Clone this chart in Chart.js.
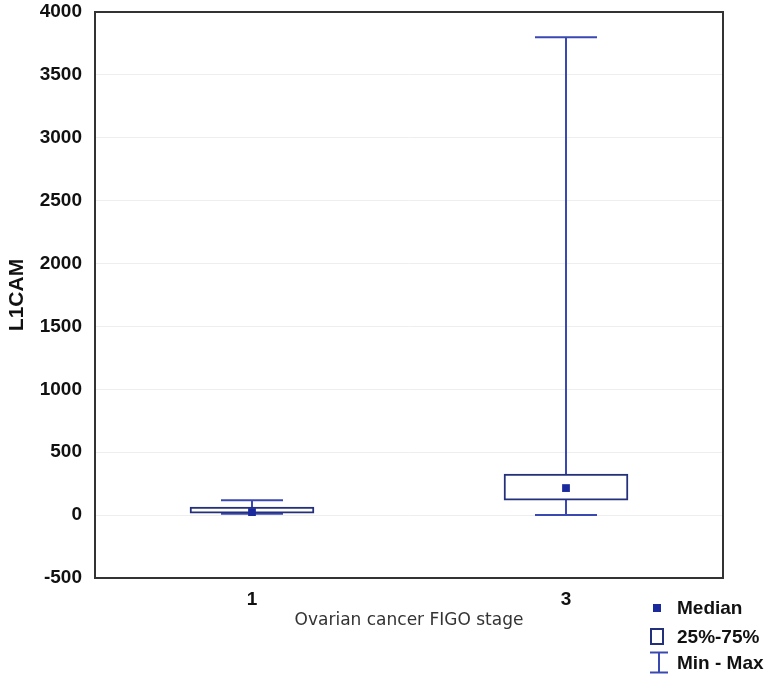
<!DOCTYPE html>
<html>
<head>
<meta charset="utf-8">
<script src="https://cdn.jsdelivr.net/npm/chart.js@4.4.1/dist/chart.umd.min.js"></script>
<style>
    body { margin: 0; background: #fff; }
    #wrap { position: relative; width: 778px; height: 680px; }
    .lg-text { position: absolute; left: 677px; height: 22px; line-height: 22px;
        font: bold 19px "Liberation Sans", Arial, sans-serif; color: #111; white-space: nowrap; }
    .lg-median { position: absolute; left: 653px; top: 604px; width: 8px; height: 8px; background: #1a2a9c; }
    .lg-box { position: absolute; left: 650px; top: 628px; width: 14px; height: 17px;
        border: 2px solid #25307a; box-sizing: border-box; background: #fff; }
    .lg-whisker { position: absolute; left: 649px; top: 651px; }
</style>
</head>
<body>
<div id="wrap">
    <canvas id="boxChart"></canvas>
    <div class="lg-median"></div>
    <div class="lg-text" style="top: 597px;">Median</div>
    <div class="lg-box"></div>
    <div class="lg-text" style="top: 626px;">25%-75%</div>
    <svg class="lg-whisker" width="20" height="23">
        <line x1="1" y1="1.5" x2="19" y2="1.5" stroke="#3a48b2" stroke-width="2"/>
        <line x1="10" y1="1.5" x2="10" y2="21.5" stroke="#3a48b2" stroke-width="2"/>
        <line x1="1" y1="21.5" x2="19" y2="21.5" stroke="#3a48b2" stroke-width="2"/>
    </svg>
    <div class="lg-text" style="top: 652px;">Min - Max</div>
</div>
<script>
// FIGO stages and L1CAM summary values
const stages = [1, 3];
const minVals = [10, 0];
const q1Vals = [16, 119];
const medianVals = [24, 215];
const q3Vals = [64, 326];
const maxVals = [119, 3800];

const yMin = -500;
const yMax = 4000;
const yStep = 500;

const boxColor = '#25307a';
const whiskerColor = '#3a48b2';
const medianColor = '#1a2a9c';
const frameColor = '#333333';

// Frame round the plot area plus whiskers with caps (drawn under the boxes)
const boxPlotExtras = {
    id: 'boxPlotExtras',
    beforeDatasetsDraw(chart) {
        const { ctx, chartArea, scales } = chart;
        ctx.save();
        ctx.strokeStyle = frameColor;
        ctx.lineWidth = 2;
        ctx.strokeRect(chartArea.left, chartArea.top, chartArea.right - chartArea.left, chartArea.bottom - chartArea.top);

        ctx.strokeStyle = whiskerColor;
        ctx.lineWidth = 2;
        const capHalf = 31;
        stages.forEach((s, i) => {
            const x = scales.x.getPixelForValue(s);
            const yLo = scales.y.getPixelForValue(minVals[i]);
            const yHi = scales.y.getPixelForValue(maxVals[i]);
            ctx.beginPath();
            ctx.moveTo(x, yLo);
            ctx.lineTo(x, yHi);
            ctx.moveTo(x - capHalf, yHi);
            ctx.lineTo(x + capHalf, yHi);
            ctx.moveTo(x - capHalf, yLo);
            ctx.lineTo(x + capHalf, yLo);
            ctx.stroke();
        });
        ctx.restore();
    }
};

const tickFont = { family: '"Liberation Sans", Arial, sans-serif', size: 19, weight: 'bold' };

const ctx = document.getElementById('boxChart').getContext('2d');
new Chart(ctx, {
    data: {
        datasets: [
            {
                type: 'scatter',
                label: 'Median',
                data: stages.map((s, i) => ({ x: s, y: medianVals[i] })),
                pointStyle: 'rect',
                pointRadius: 5.5,
                backgroundColor: medianColor,
                borderColor: medianColor,
                borderWidth: 0,
                order: 0
            },
            {
                type: 'bar',
                label: '25%-75%',
                data: stages.map((s, i) => ({ x: s, y: [q1Vals[i], q3Vals[i]] })),
                backgroundColor: '#ffffff',
                borderColor: boxColor,
                borderWidth: 2,
                borderSkipped: false,
                barThickness: 124,
                order: 1
            }
        ]
    },
    options: {
        responsive: true,
        maintainAspectRatio: false,
        animation: false,
        events: [],
        layout: { autoPadding: false, padding: { top: 12, right: 55, left: 0, bottom: 0 } },
        plugins: {
            legend: { display: false },
            tooltip: { enabled: false }
        },
        scales: {
            x: {
                type: 'linear',
                min: 0,
                max: 4,
                offset: false,
                afterBuildTicks: axis => { axis.ticks = stages.map(v => ({ value: v })); },
                afterFit: axis => { axis.height = 102; },
                ticks: {
                    color: '#111',
                    font: tickFont,
                    padding: 2,
                    callback: v => String(v)
                },
                grid: { display: false },
                border: { display: true, color: frameColor, width: 2 },
                title: {
                    display: true,
                    text: 'Ovarian cancer FIGO stage',
                    color: '#333',
                    font: { family: '"DejaVu Sans", Verdana, sans-serif', size: 17 },
                    padding: { top: 0, bottom: 49 }
                }
            },
            y: {
                min: yMin,
                max: yMax,
                afterFit: axis => { axis.width = 95; axis.paddingTop = 0; },
                ticks: {
                    stepSize: yStep,
                    color: '#111',
                    font: tickFont,
                    padding: 13,
                    callback: v => String(v)
                },
                grid: { color: '#eeeeee', lineWidth: 1, drawTicks: false },
                border: { display: true, color: frameColor, width: 2 },
                title: {
                    display: true,
                    text: 'L1CAM',
                    color: '#111',
                    font: { family: '"Liberation Sans", Arial, sans-serif', size: 21, weight: 'bold' },
                    padding: { top: 5, bottom: 0 }
                }
            }
        }
    },
    plugins: [boxPlotExtras]
});
</script>
</body>
</html>
